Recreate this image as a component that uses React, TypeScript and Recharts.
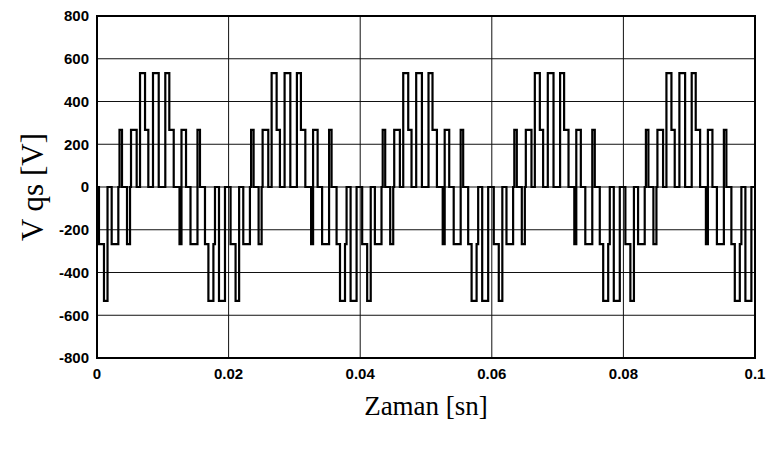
import {
  LineChart,
  Line,
  XAxis,
  YAxis,
  CartesianGrid,
  ReferenceArea,
} from "recharts";

// switching instants inside one 20 ms period (ms) and the level held after each
const switchTimesMs = [
  0, 0.3, 1.06, 1.6, 2.23, 3.24, 3.42, 3.8, 4.56, 5.02, 5.17, 6.03, 6.54, 7.3,
  7.8, 8.51, 9.38, 10.38, 10.99, 11.66, 12.54, 12.84, 13.53, 14.21, 15.27,
  15.65, 16.41, 16.93, 17.69, 17.93, 18.54, 19.45,
];
const switchLevels = [
  0, -267, -533, 0, -267, 0, 267, 0, -267, 0, 267, 0, 533, 267, 0, 533, 0, 533,
  267, 0, -267, 267, 0, -267, 267, 0, -267, -533, -267, 0, -533, 0,
];
const periodStarts = [0, 0.02, 0.04, 0.06, 0.08];

const xTicks = [0, 0.02, 0.04, 0.06, 0.08, 0.1];
const xTickLabels = ["0", "0.02", "0.04", "0.06", "0.08", "0.1"];
const yTicks = [-800, -600, -400, -200, 0, 200, 400, 600, 800];

const chartData = [
  ...periodStarts.flatMap((p) =>
    switchTimesMs.map((ms, i) => ({ t: p + ms / 1000, v: switchLevels[i] }))
  ),
  { t: 0.1, v: 0 },
];

const tickStyle = {
  fill: "#000",
  fontSize: 15,
  fontWeight: 700,
  fontFamily: "'Liberation Sans', Arial, sans-serif",
};

export default function App() {
  return (
    <div style={{ position: "absolute", left: 0, top: 0, background: "#fff" }}>
      <LineChart
        width={766}
        height={450}
        data={chartData}
        margin={{ top: 16, right: 11, left: 0, bottom: 0 }}
      >
        <CartesianGrid stroke="#111" strokeWidth={1} />
        <XAxis
          dataKey="t"
          type="number"
          domain={[0, 0.1]}
          ticks={xTicks}
          tickFormatter={(v: number) => xTickLabels[xTicks.indexOf(v)] ?? String(v)}
          tick={tickStyle}
          tickLine={false}
          tickSize={0}
          tickMargin={10}
          axisLine={false}
          height={92}
          label={{
            value: "Zaman [sn]",
            position: "insideBottom",
            offset: 35,
            fill: "#000",
            fontSize: 27,
            fontFamily: "'Liberation Serif', 'Times New Roman', serif",
          }}
        />
        <YAxis
          type="number"
          domain={[-800, 800]}
          ticks={yTicks}
          tick={tickStyle}
          tickLine={false}
          tickSize={0}
          tickMargin={8}
          axisLine={false}
          width={97}
          label={{
            value: "V qs [V]",
            angle: -90,
            position: "insideLeft",
            offset: 32,
            fill: "#000",
            fontSize: 31,
            fontFamily: "'Liberation Serif', 'Times New Roman', serif",
            style: { textAnchor: "middle" },
          }}
        />
        <ReferenceArea
          x1={0}
          x2={0.1}
          y1={-800}
          y2={800}
          fill="none"
          stroke="#000"
          strokeWidth={2}
          ifOverflow="visible"
        />
        <Line
          type="stepAfter"
          dataKey="v"
          stroke="#000"
          strokeWidth={2.2}
          dot={false}
          isAnimationActive={false}
        />
      </LineChart>
    </div>
  );
}
